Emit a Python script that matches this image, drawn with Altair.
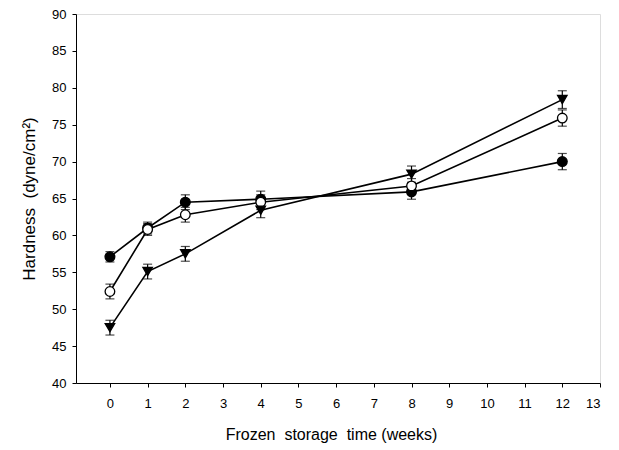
import altair as alt
import pandas as pd

weeks = [0, 1, 2, 4, 8, 12]
filled_vals = [57.1, 61.0, 64.5, 64.9, 65.9, 70.0]
filled_err = [0.7, 0.8, 1.0, 1.1, 1.0, 1.1]
open_vals = [52.4, 60.8, 62.8, 64.5, 66.7, 75.9]
open_err = [1.0, 0.8, 1.0, 1.0, 1.0, 1.1]
tri_vals = [47.5, 55.1, 57.5, 63.4, 68.3, 78.4]
tri_err = [1.0, 1.0, 1.0, 1.0, 1.1, 1.2]

series_names = ["filled circle", "open circle", "triangle"]
x_ticks = list(range(0, 14))
y_ticks = list(range(40, 91, 5))

rows = []
for name, vals, errs in zip(series_names, [filled_vals, open_vals, tri_vals],
                            [filled_err, open_err, tri_err]):
    for w, v, e in zip(weeks, vals, errs):
        rows.append({"series": name, "week": w, "value": v,
                     "lo": v - e, "hi": v + e})
df = pd.DataFrame(rows)

FONT = "Liberation Sans"
NB = "\u00a0"

x_axis = alt.Axis(values=x_ticks, title=f"Frozen{NB}{NB}storage{NB}{NB}time (weeks)",
                  grid=False, tickSize=4, labelPadding=10, labelOverlap=False,
                  titlePadding=16, labelFontSize=13, titleFontSize=16,
                  titleFontWeight="normal", titleX=255,
                  labelFont=FONT, titleFont=FONT,
                  domainColor="black", tickColor="black",
                  labelColor="black", titleColor="black")
y_axis = alt.Axis(values=y_ticks, title=f"Hardness{NB}{NB}(dyne/cm²)",
                  grid=False, tickSize=4, labelPadding=6, labelOverlap=False,
                  titlePadding=13, labelFontSize=13, titleFontSize=17,
                  titleFontWeight="normal",
                  labelFont=FONT, titleFont=FONT,
                  domainColor="black", tickColor="black",
                  labelColor="black", titleColor="black")

x_scale = alt.Scale(domain=[-0.9, 13], nice=False, zero=False)
y_scale = alt.Scale(domain=[40, 90], nice=False, zero=False)

def X():
    return alt.X("week:Q", scale=x_scale, axis=x_axis)

def Y(field):
    return alt.Y(f"{field}:Q", scale=y_scale, axis=y_axis)

base = alt.Chart(df)

lines = base.mark_line(color="black", strokeWidth=1.6).encode(
    x=X(), y=Y("value"), detail="series:N")

bars = base.mark_rule(color="black", strokeWidth=1.2).encode(
    x=X(), y=Y("lo"), y2="hi:Q")
cap_lo = base.mark_tick(color="black", orient="horizontal", size=9,
                        thickness=1.2).encode(x=X(), y=Y("lo"))
cap_hi = base.mark_tick(color="black", orient="horizontal", size=9,
                        thickness=1.2).encode(x=X(), y=Y("hi"))

points = base.mark_point(filled=True, stroke="black", strokeWidth=1.3,
                         opacity=1).encode(
    x=X(),
    y=Y("value"),
    shape=alt.Shape("series:N", legend=None,
                    scale=alt.Scale(domain=series_names,
                                    range=["circle", "circle", "triangle-down"])),
    fill=alt.Fill("series:N", legend=None,
                  scale=alt.Scale(domain=series_names,
                                  range=["black", "white", "black"])),
    size=alt.Size("series:N", legend=None,
                  scale=alt.Scale(domain=series_names, range=[95, 90, 100])),
)

chart = alt.layer(lines, bars, cap_lo, cap_hi, points).properties(
    width=524, height=369,
    autosize=alt.AutoSizeParams(type="none"),
    padding={"left": 68, "top": 6, "right": 11, "bottom": 62},
).configure_view(stroke="black", strokeWidth=1).configure(background="white")

chart.save("out.html", embed_options={"renderer": "svg", "actions": False})
